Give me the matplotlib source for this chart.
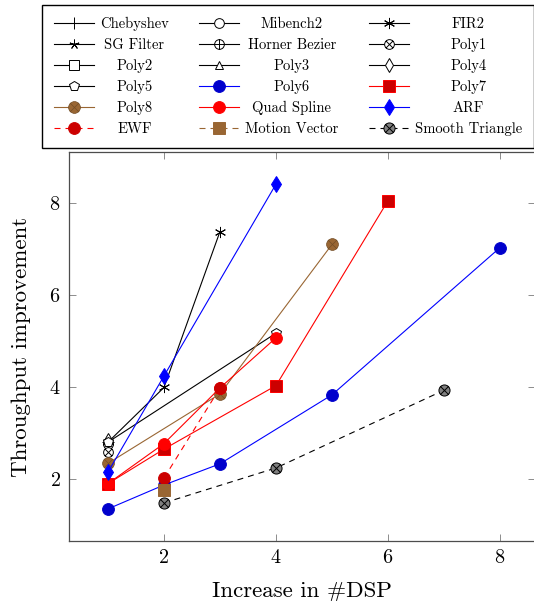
import numpy as np
import matplotlib
matplotlib.use("Agg")
import matplotlib.pyplot as plt
from matplotlib.path import Path

plt.rcParams['font.family'] = ['cmr10', 'DejaVu Serif']
plt.rcParams['axes.formatter.use_mathtext'] = True
plt.rcParams['mathtext.fontset'] = 'cm'

# ---- data ----
names = ["Chebyshev", "Mibench2", "FIR2", "SG Filter", "Horner Bezier", "Poly1",
         "Poly2", "Poly3", "Poly4", "Poly5", "Poly6", "Poly7",
         "Poly8", "Quad Spline", "ARF", "EWF", "Motion Vector", "Smooth Triangle"]

x_cheb, y_cheb = [1], [2.80]
x_mib, y_mib = [1], [2.78]
x_fir, y_fir = [1, 2, 3], [2.80, 3.99, 7.38]
x_sg, y_sg = [1], [2.82]
x_horner, y_horner = [1], [2.76]
x_p1, y_p1 = [1], [2.58]
x_p2, y_p2 = [1], [1.88]
x_p3, y_p3 = [1], [2.85]
x_p4, y_p4 = [1], [2.84]
x_p5, y_p5 = [1, 4], [2.80, 5.17]
x_p6, y_p6 = [1, 2, 3, 5, 8], [1.35, 1.87, 2.33, 3.83, 7.03]
x_p7, y_p7 = [1, 2, 4, 6], [1.90, 2.65, 4.03, 8.05]
x_p8, y_p8 = [1, 3, 5], [2.34, 3.85, 7.10]
x_quad, y_quad = [1, 2, 3, 4], [1.90, 2.77, 3.98, 5.07]
x_arf, y_arf = [1, 2, 4], [2.15, 4.24, 8.41]
x_ewf, y_ewf = [2, 3], [2.02, 3.98]
x_mv, y_mv = [2], [1.75]
x_st, y_st = [2, 4, 7], [1.48, 2.24, 3.93]

# ---- custom marks (circle with x / circle with +) ----
circ = Path.unit_circle()
d = 0.7071
otimes = Path.make_compound_path(
    circ,
    Path([[-d, -d], [d, d]], [Path.MOVETO, Path.LINETO]),
    Path([[-d, d], [d, -d]], [Path.MOVETO, Path.LINETO]))
oplus = Path.make_compound_path(
    circ,
    Path([[-1, 0], [1, 0]], [Path.MOVETO, Path.LINETO]),
    Path([[0, -1], [0, 1]], [Path.MOVETO, Path.LINETO]))

blue = (0, 0, 1)
dblue = (0, 0, 0.8)
red = (1, 0, 0)
dred = (0.8, 0, 0)
brown = (0.6, 0.4, 0.2)

lw = 0.8
dash = (5.4, 4.5)

fig = plt.figure(figsize=(5.34, 6.05), dpi=100)
ax = fig.add_axes([69 / 534, 1 - 541 / 605, 466 / 534, 389 / 605])

handles = []
def add(x, y, label, color='k', marker='o', ms=6, mfc='none', mec=None, ls='-', mew=0.7):
    h, = ax.plot(x, y, color=color, lw=lw, ls=ls, marker=marker, ms=ms,
                 mfc=mfc, mec=mec if mec is not None else color, mew=mew, label=label)
    if ls == '--':
        h.set_dashes(dash)
    handles.append(h)

add(x_cheb, y_cheb, names[0], marker='+', ms=8)
add(x_mib, y_mib, names[1], marker='o', ms=7, mfc='white')
add(x_fir, y_fir, names[2], marker=(6, 2, 0), ms=8)
add(x_sg, y_sg, names[3], marker=(5, 2, 0), ms=7)
add(x_horner, y_horner, names[4], marker=oplus, ms=7, mfc='white')
add(x_p1, y_p1, names[5], marker=otimes, ms=7, mfc='white')
add(x_p2, y_p2, names[6], marker='s', ms=7, mfc='white')
add(x_p3, y_p3, names[7], marker='^', ms=6, mfc='white')
add(x_p4, y_p4, names[8], marker='d', ms=7, mfc='white')
add(x_p5, y_p5, names[9], marker='p', ms=7, mfc='white')
add(x_p6, y_p6, names[10], color=blue, marker='o', ms=8.5, mfc=dblue, mec=dblue)
add(x_p7, y_p7, names[11], color=red, marker='s', ms=8, mfc=dred, mec=red)
add(x_p8, y_p8, names[12], color=brown, marker=otimes, ms=8.5, mfc=brown, mec=(0.45, 0.3, 0.15), mew=0.5)
add(x_quad, y_quad, names[13], color=red, marker='o', ms=8.5, mfc=red, mec=red)
add(x_arf, y_arf, names[14], color=blue, marker='d', ms=8, mfc=blue, mec=blue)
add(x_ewf, y_ewf, names[15], color=red, marker='o', ms=8.5, mfc=dred, mec=dred, ls='--')
add(x_mv, y_mv, names[16], color=brown, marker='s', ms=8, mfc=brown, mec=brown, ls='--')
add(x_st, y_st, names[17], color='k', marker=otimes, ms=8, mfc='0.5', mec='k', ls='--')

ax.set_xlim(0.304, 8.625)
ax.set_ylim(0.652, 9.109)
ax.set_xticks([2, 4, 6, 8])
ax.set_yticks([2, 4, 6, 8])
ax.tick_params(direction='in', top=True, right=True, length=5, width=0.7,
               color='0.55', labelsize=14.5, pad=6)
for s in ax.spines.values():
    s.set_color('0.3')
    s.set_linewidth(0.9)
ax.set_xlabel("Increase in #DSP", fontsize=16.5, labelpad=10)
ax.set_ylabel("Throughput improvement", fontsize=16.5, labelpad=13)

# legend: row-major order like the original, 3 columns
order = [i + 3 * r for i in range(3) for r in range(6)]
leg = fig.legend([handles[i] for i in order], [names[i] for i in order],
                 ncol=3, loc='upper left', mode='expand',
                 bbox_to_anchor=(42 / 534, 1 - 148 / 605, 492 / 534, 143 / 605),
                 fontsize=10.5, frameon=True, fancybox=False, edgecolor='k',
                 framealpha=1, handlelength=2.75, handletextpad=0.4,
                 labelspacing=0.48, borderpad=0.82, borderaxespad=0,
                 columnspacing=1.0, numpoints=1)
leg.get_frame().set_linewidth(1.0)

# center the text inside each legend column
fig.canvas.draw()
texts = leg.get_texts()
r = fig.canvas.get_renderer()
for c in range(3):
    col = [texts[c * 6 + k] for k in range(6)]
    ws = [t.get_window_extent(r).width for t in col]
    mw = max(ws)
    for t, w in zip(col, ws):
        t.set_x((mw - w) / 2)

fig.savefig('out.png', dpi=100)
